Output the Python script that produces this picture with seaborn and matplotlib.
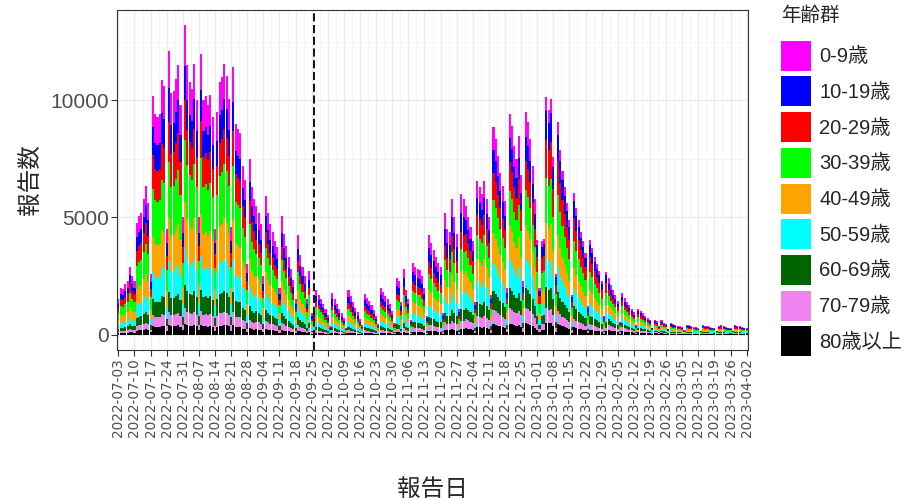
import numpy as np
import pandas as pd
import seaborn as sns
import matplotlib.pyplot as plt
from matplotlib.patches import Patch

# 報告日ごとの報告数 (2022-07-03 から 1日ずつ, 1行 = 日曜〜土曜)
start_date = '2022-07-03'
daily_total = [
    1500, 2000, 1950, 2150, 2300, 2900, 2500,
    2300, 4770, 5050, 5200, 5770, 6340, 5630,
    2600, 10200, 9400, 9300, 9400, 10850, 10600,
    4500, 12100, 10300, 10400, 10900, 11500, 9800,
    5000, 13200, 11500, 10800, 10500, 11560, 10000,
    5000, 12000, 10000, 10200, 9800, 10250, 9300,
    4500, 9490, 10780, 11000, 11560, 11060, 10060,
    4600, 11420, 9000, 8770, 8600, 7200, 6600,
    3000, 7490, 6300, 5800, 5480, 5200, 4700,
    2500, 5900, 5200, 4700, 4400, 4000, 3760,
    2000, 5050, 4300, 3800, 3300, 2800, 2340,
    1500, 4270, 3400, 2900, 2500, 1500, 2700,
    900, 1000, 1900, 1700, 1500, 1300, 1100,
    850, 350, 1770, 1500, 1300, 1100, 900,
    700, 300, 1900, 1650, 1400, 1150, 950,
    650, 400, 1730, 1550, 1450, 1250, 1050,
    800, 450, 2000, 1800, 1650, 1500, 1300,
    1000, 500, 2400, 2300, 1400, 2800, 1900,
    1500, 600, 3060, 2900, 2800, 2750, 2500,
    2000, 800, 4270, 3900, 3600, 3300, 3050,
    2900, 900, 5200, 4500, 4400, 5770, 5000,
    4300, 1100, 5990, 5770, 5500, 5000, 4600,
    4000, 1400, 6550, 6300, 6000, 6550, 5800,
    5000, 1700, 8850, 8340, 7630, 6910, 6340,
    5700, 2000, 9420, 8900, 8060, 7500, 8490,
    6800, 2300, 9490, 9060, 8340, 7200, 5770,
    4050, 2000, 4000, 4100, 10150, 9600, 10050,
    7600, 2600, 9060, 7900, 7000, 6300, 5600,
    4900, 1700, 6060, 5400, 4900, 4400, 4000,
    3500, 1200, 4050, 3700, 3300, 3000, 2700,
    2300, 800, 2690, 2400, 2100, 1900, 1700,
    1450, 550, 1770, 1550, 1400, 1250, 1100,
    950, 400, 1100, 1000, 900, 800, 700,
    620, 300, 630, 560, 350, 600, 500,
    450, 250, 480, 440, 410, 380, 350,
    320, 180, 420, 390, 360, 340, 310,
    290, 170, 410, 380, 350, 330, 300,
    280, 160, 350, 400, 360, 330, 300,
    280, 160, 400, 370, 350, 320, 300,
    270,
]

age_groups = ['0-9歳', '10-19歳', '20-29歳', '30-39歳', '40-49歳',
              '50-59歳', '60-69歳', '70-79歳', '80歳以上']
colors = ['#FF00FF', '#0000FF', '#FF0000', '#00FF00', '#FFA500',
          '#00FFFF', '#006400', '#EE82EE', '#000000']

# 月ごとの年齢構成 (age_groups の順)
month_share = {
    '2022-07': [0.13, 0.12, 0.14, 0.20, 0.15, 0.11, 0.07, 0.045, 0.035],
    '2022-08': [0.13, 0.11, 0.13, 0.20, 0.15, 0.12, 0.075, 0.05, 0.035],
    '2022-09': [0.14, 0.12, 0.11, 0.18, 0.15, 0.12, 0.08, 0.06, 0.04],
    '2022-10': [0.15, 0.15, 0.12, 0.15, 0.14, 0.11, 0.08, 0.06, 0.04],
    '2022-11': [0.13, 0.14, 0.12, 0.16, 0.15, 0.12, 0.08, 0.06, 0.04],
    '2022-12': [0.11, 0.11, 0.13, 0.16, 0.15, 0.13, 0.09, 0.07, 0.05],
    '2023-01': [0.06, 0.12, 0.16, 0.19, 0.15, 0.12, 0.09, 0.06, 0.05],
    '2023-02': [0.10, 0.10, 0.12, 0.15, 0.14, 0.12, 0.10, 0.09, 0.08],
    '2023-03': [0.12, 0.12, 0.12, 0.14, 0.13, 0.12, 0.09, 0.08, 0.08],
    '2023-04': [0.12, 0.12, 0.12, 0.14, 0.13, 0.12, 0.09, 0.08, 0.08],
}

change_date = '2022-09-26'  # 全数把握見直し

dates = pd.date_range(start_date, periods=len(daily_total), freq='D')
rows = []
for i, (d, tot) in enumerate(zip(dates, daily_total)):
    share = month_share[d.strftime('%Y-%m')]
    for g, s in zip(age_groups, share):
        rows.append({'day': i, 'age': g, 'count': round(tot * s)})
df = pd.DataFrame(rows)

sns.set_theme(style='white')
plt.rcParams['font.family'] = ['Liberation Sans', 'Noto Sans CJK JP', 'DejaVu Sans']

fig = plt.figure(figsize=(9.22, 5.0), dpi=100)
ax = fig.add_axes([117 / 922, 150 / 500, 631 / 922, 340 / 500])

sns.histplot(data=df, x='day', weights='count', hue='age', hue_order=age_groups,
             palette=colors, multiple='stack', discrete=True, shrink=0.9,
             element='bars', linewidth=0, alpha=1, legend=False, ax=ax)

change_idx = int((pd.Timestamp(change_date) - dates[0]).days)
ax.axvline(change_idx, color='black', lw=1.3, linestyle=(0, (4.5, 2)), zorder=5)

# 軸
week_idx = list(range(0, len(dates), 7))
ax.set_xticks(week_idx)
ax.set_xticklabels([dates[i].strftime('%Y-%m-%d') for i in week_idx], rotation=90,
                   fontsize=9.8, family='DejaVu Sans')
ax.set_xticks([i + 3.5 for i in week_idx[:-1]], minor=True)
ax.set_xlim(-0.6, len(dates) - 0.4)

ymax = max(daily_total)
ax.set_ylim(-0.05 * ymax, 1.05 * ymax)
ax.set_yticks([0, 5000, 10000])
ax.set_yticks([2500, 7500, 12500], minor=True)

ax.grid(which='major', color='#EBEBEB', lw=1.0)
ax.grid(which='minor', color='#F2F2F2', lw=0.6)
ax.set_axisbelow(True)
for sp in ax.spines.values():
    sp.set_color('#333333')
    sp.set_linewidth(0.8)

ax.tick_params(which='major', length=4, width=0.8, color='#333333',
               labelcolor='#4D4D4D', pad=2)
ax.tick_params(axis='y', labelsize=15)
ax.tick_params(which='minor', length=0)
ax.tick_params(axis='x', which='major', bottom=True)
ax.tick_params(axis='y', which='major', left=True)

ax.set_xlabel('報告日', fontsize=17)
ax.xaxis.set_label_coords(0.5, -0.38)
ax.set_ylabel('報告数', fontsize=17, labelpad=6)

handles = [Patch(facecolor=c, edgecolor='none', label=g) for g, c in zip(age_groups, colors)]
leg = ax.legend(handles=handles, title='年齢群', loc='upper left',
                bbox_to_anchor=(781 / 922, 1 - 7 / 500), bbox_transform=fig.transFigure,
                frameon=False, fontsize=14.5, title_fontsize=14,
                handlelength=1.5, handleheight=1.92, labelspacing=0.28,
                handletextpad=0.4, borderpad=0, borderaxespad=0, alignment='left')
leg._legend_box.sep = 11  # タイトルと凡例キーの間隔

fig.savefig('out.png', dpi=100)
